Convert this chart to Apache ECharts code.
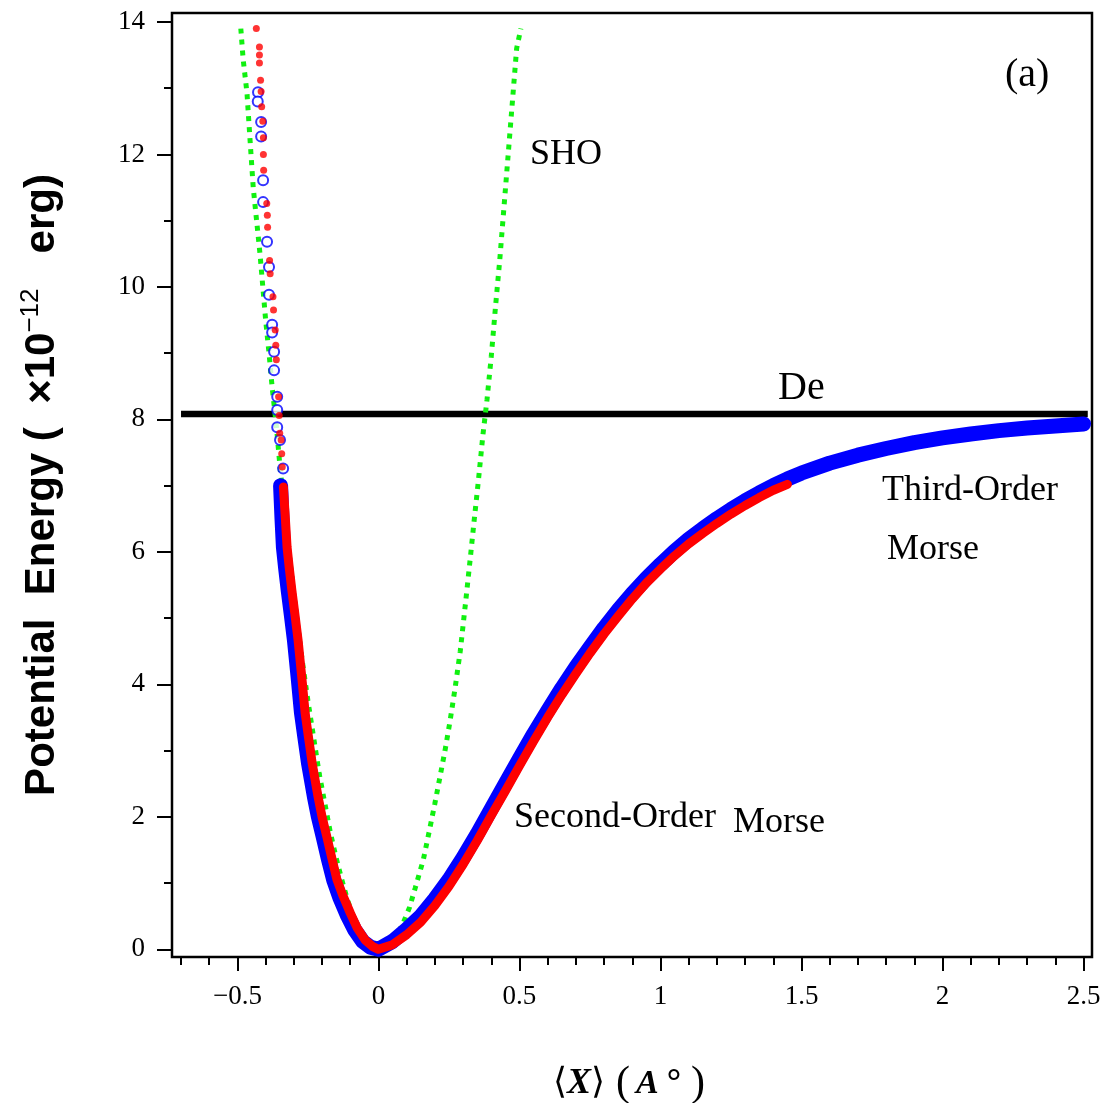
<!DOCTYPE html>
<html>
<head>
<meta charset="utf-8">
<script src="https://cdn.jsdelivr.net/npm/echarts@6/dist/echarts.min.js"></script>
<style>html,body{margin:0;padding:0;background:#fff}#c{width:1105px;height:1103px}</style>
</head>
<body>
<div id="c"></div>
<script>
// ---- Data ----
const xTickLabels = [-0.5, 0, 0.5, 1, 1.5, 2, 2.5];
const yTickLabels = [0, 2, 4, 6, 8, 10, 12, 14];

// De (dissociation energy) horizontal line
const deLevel = 8.08;
const deX = [-0.7, 2.515];

// SHO (green dotted)
const shoPoints = [
 [-0.488,13.9],[-0.48,13.45],[-0.466,12.92],[-0.455,12.2],[-0.444,11.5],[-0.432,11.0],[-0.42,10.5],
 [-0.41,10.0],[-0.40,9.5],[-0.388,9.0],[-0.377,8.49],[-0.362,7.9],[-0.349,7.28],[-0.335,6.7],[-0.32,6.1],
 [-0.305,5.55],[-0.29,5.0],[-0.27,4.35],[-0.25,3.75],[-0.23,3.2],[-0.21,2.65],[-0.19,2.2],[-0.17,1.75],
 [-0.15,1.38],[-0.13,1.05],[-0.11,0.75],[-0.09,0.5],[-0.07,0.3],[-0.05,0.15],[-0.03,0.06],[-0.01,0.01],
 [0.01,0.0],[0.03,0.04],[0.05,0.12],[0.07,0.25],[0.088,0.40],[0.11,0.63],[0.13,0.92],[0.159,1.35],
 [0.18,1.78],[0.2,2.2],[0.218,2.6],[0.236,3.0],[0.254,3.45],[0.272,3.95],[0.29,4.5],[0.308,5.2],
 [0.325,5.88],[0.34,6.5],[0.355,7.1],[0.37,7.75],[0.385,8.3],[0.40,8.95],[0.415,9.7],[0.43,10.4],
 [0.445,11.2],[0.46,12.0],[0.475,12.8],[0.49,13.6],[0.505,13.9]
];

// Third-order Morse (blue open circles): sparse upper-left part and dense main part
const thirdUpper = [
 [-0.427,12.94],[-0.428,12.8],[-0.416,12.49],[-0.416,12.27],[-0.409,11.61],[-0.409,11.28],[-0.395,10.68],
 [-0.388,10.30],[-0.388,9.88],[-0.377,9.43],[-0.377,9.31],[-0.37,9.02],[-0.37,8.74],[-0.359,8.34],
 [-0.359,8.14],[-0.359,7.88],[-0.349,7.69],[-0.338,7.26]
];
const thirdMain = [
 [-0.347,7.0],[-0.342,6.5],[-0.337,6.07],[-0.329,5.75],[-0.32,5.42],[-0.309,5.05],[-0.298,4.67],
 [-0.291,4.37],[-0.284,4.07],[-0.273,3.57],[-0.261,3.2],[-0.248,2.81],[-0.227,2.3],[-0.213,2.0],
 [-0.196,1.7],[-0.178,1.37],[-0.159,1.05],[-0.137,0.78],[-0.111,0.52],[-0.085,0.3],[-0.056,0.12],
 [-0.028,0.03],[0.0,0.0],[0.05,0.12],[0.1,0.3],[0.15,0.5],[0.2,0.76],[0.25,1.05],[0.3,1.38],
 [0.35,1.74],[0.4,2.12],[0.45,2.5],[0.5,2.88],[0.55,3.25],[0.6,3.6],[0.65,3.94],[0.7,4.26],[0.75,4.56],
 [0.8,4.85],[0.85,5.12],[0.9,5.37],[0.95,5.6],[1.0,5.81],[1.05,6.01],[1.1,6.19],[1.15,6.35],[1.2,6.5],
 [1.25,6.64],[1.3,6.77],[1.35,6.89],[1.4,7.0],[1.45,7.1],[1.5,7.19],[1.6,7.34],[1.7,7.46],[1.8,7.56],
 [1.9,7.65],[2.0,7.72],[2.1,7.78],[2.2,7.83],[2.3,7.87],[2.4,7.9],[2.5,7.93]
];

// Second-order Morse (red dots): sparse upper-left part and dense main part
const secondUpper = [
 [-0.433,13.9],[-0.422,13.62],[-0.422,13.5],[-0.422,13.38],[-0.418,13.12],[-0.416,12.95],[-0.414,12.72],
 [-0.41,12.5],[-0.408,12.25],[-0.408,12.0],[-0.407,11.76],[-0.396,11.26],[-0.394,11.08],[-0.393,10.9],
 [-0.386,10.4],[-0.384,10.2],[-0.374,9.85],[-0.372,9.65],[-0.366,9.35],[-0.364,9.12],[-0.362,8.9],
 [-0.354,8.34],[-0.352,8.06],[-0.35,7.79],[-0.345,7.69],[-0.343,7.48],[-0.341,7.28]
];
const secondMain = [
 [-0.337,6.98],[-0.33,6.5],[-0.324,6.07],[-0.316,5.75],[-0.307,5.42],[-0.296,5.05],[-0.285,4.67],
 [-0.278,4.37],[-0.271,4.07],[-0.26,3.57],[-0.248,3.2],[-0.235,2.81],[-0.214,2.3],[-0.2,2.0],
 [-0.183,1.7],[-0.165,1.37],[-0.147,1.05],[-0.125,0.8],[-0.1,0.55],[-0.075,0.32],[-0.047,0.14],
 [-0.02,0.04],[0.0,0.0],[0.05,0.07],[0.1,0.22],[0.15,0.41],[0.2,0.66],[0.25,0.95],[0.3,1.28],
 [0.35,1.64],[0.4,2.02],[0.45,2.39],[0.5,2.77],[0.55,3.14],[0.6,3.5],[0.65,3.84],[0.7,4.16],
 [0.75,4.47],[0.8,4.76],[0.85,5.03],[0.9,5.29],[0.95,5.53],[1.0,5.74],[1.05,5.94],[1.1,6.12],
 [1.15,6.28],[1.2,6.43],[1.25,6.57],[1.3,6.7],[1.35,6.82],[1.4,6.93],[1.45,7.02]
];

// ---- Layout ----
const W = 1105, H = 1103;
const L = 172, R = 1092, T = 13, B = 957;
const X_MIN = -0.732, X_MAX = 2.53, Y_MIN = -0.116, Y_MAX = 14.135;
const px = x => L + (x - X_MIN) / (X_MAX - X_MIN) * (R - L);
const py = y => B - (y - Y_MIN) / (Y_MAX - Y_MIN) * (B - T);

const SERIF = '"Liberation Serif","Times New Roman",serif';
const SANS = '"Liberation Sans",Arial,sans-serif';

const tickX0 = xTickLabels[0] - 0.2; // first minor tick (-0.7)
const tickX1 = xTickLabels[xTickLabels.length - 1];
const tickY0 = yTickLabels[0], tickY1 = yTickLabels[yTickLabels.length - 1];

const minusFmt = v => (v < 0 ? '\u2212' + Math.abs(v) : String(v));
const noLine = {show: false, onZero: false};

const chart = echarts.init(document.getElementById('c'), null, {renderer: 'canvas'});
chart.setOption({
  animation: false,
  backgroundColor: '#fff',
  grid: [
    {left: L, top: T, width: R - L, height: B - T, show: true, borderColor: '#000', borderWidth: 2.5,
     backgroundColor: 'transparent', outerBoundsMode: 'none'},
    // minor ticks
    {left: px(tickX0), top: py(tickY1), width: px(tickX1) - px(tickX0), height: py(tickY0) - py(tickY1), outerBoundsMode: 'none'},
    // major ticks + labels
    {left: px(xTickLabels[0]), top: py(tickY1), width: px(tickX1) - px(xTickLabels[0]), height: py(tickY0) - py(tickY1), outerBoundsMode: 'none'}
  ],
  xAxis: [
    {type: 'value', gridIndex: 0, min: X_MIN, max: X_MAX, axisLine: noLine, axisTick: {show: false},
     axisLabel: {show: false}, splitLine: {show: false},
     name: '{b|\u27E8}{x|X}{b|\u27E9}{s| }{p|(}{a|A}{d|\u00B0}{p|)}', nameLocation: 'middle', nameGap: 106,
     nameTextStyle: {rich: {
       b: {fontFamily: SERIF, fontSize: 36, color: '#000'},
       x: {fontFamily: SERIF, fontSize: 36, fontWeight: 'bold', fontStyle: 'italic', color: '#000'},
       s: {fontFamily: SERIF, fontSize: 20},
       p: {fontFamily: SERIF, fontSize: 42, color: '#000', padding: [0, 6, 0, 6]},
       a: {fontFamily: SERIF, fontSize: 34, fontStyle: 'italic', fontWeight: 'bold', color: '#000'},
       d: {fontFamily: SERIF, fontSize: 36, fontWeight: 'bold', color: '#000', padding: [0, 4, 0, 8]}
     }}},
    {type: 'value', gridIndex: 1, min: tickX0, max: tickX1, interval: 0.1, offset: B - py(tickY0),
     axisLine: noLine, axisTick: {show: true, length: 8, lineStyle: {color: '#000', width: 2}},
     axisLabel: {show: false}, splitLine: {show: false}},
    {type: 'value', gridIndex: 2, min: xTickLabels[0], max: tickX1, interval: 0.5, offset: B - py(tickY0),
     axisLine: noLine, axisTick: {show: true, length: 14, lineStyle: {color: '#000', width: 2}},
     axisLabel: {show: true, margin: 26, formatter: minusFmt, fontFamily: SERIF, fontSize: 27, color: '#000',
       showMinLabel: true, showMaxLabel: true},
     splitLine: {show: false}}
  ],
  yAxis: [
    {type: 'value', gridIndex: 0, min: Y_MIN, max: Y_MAX, axisLine: noLine, axisTick: {show: false},
     axisLabel: {show: false}, splitLine: {show: false},
     name: '{a|Potential  Energy (  \u00D710}{s|\u221212}{a|   erg)}', nameLocation: 'middle', nameGap: 106,
     nameTextStyle: {rich: {
       a: {fontFamily: SANS, fontSize: 42, fontWeight: 'bold', color: '#000'},
       s: {fontFamily: SANS, fontSize: 26, color: '#000', padding: [0, 0, 22, 0]}
     }}},
    {type: 'value', gridIndex: 1, min: tickY0, max: tickY1, interval: 1, offset: px(tickX0) - L,
     axisLine: noLine, axisTick: {show: true, length: 8, lineStyle: {color: '#000', width: 2}},
     axisLabel: {show: false}, splitLine: {show: false}},
    {type: 'value', gridIndex: 2, min: tickY0, max: tickY1, interval: 2, offset: px(xTickLabels[0]) - L,
     axisLine: noLine, axisTick: {show: true, length: 15, lineStyle: {color: '#000', width: 2}},
     axisLabel: {show: true, margin: 27, fontFamily: SERIF, fontSize: 27, color: '#000',
       showMinLabel: true, showMaxLabel: true},
     splitLine: {show: false}}
  ],
  series: [
    {type: 'line', xAxisIndex: 0, yAxisIndex: 0, data: deX.map(x => [x, deLevel]), symbol: 'none',
     lineStyle: {color: '#000', width: 6.5, cap: 'butt'}, z: 2},
    {type: 'line', xAxisIndex: 0, yAxisIndex: 0, data: shoPoints, symbol: 'none',
     lineStyle: {color: '#10f010', width: 5, type: [5, 6], cap: 'butt'}, z: 3},
    {type: 'line', xAxisIndex: 0, yAxisIndex: 0, data: thirdMain, symbol: 'none',
     lineStyle: {color: '#0000ff', width: 15, cap: 'round', join: 'round'}, z: 4},
    {type: 'scatter', xAxisIndex: 0, yAxisIndex: 0, data: thirdUpper, symbol: 'emptyCircle', symbolSize: 10,
     itemStyle: {color: '#0000ff', borderColor: '#0000ff', borderWidth: 2.5}, z: 4},
    {type: 'line', xAxisIndex: 0, yAxisIndex: 0, data: secondMain, symbol: 'none',
     lineStyle: {color: '#ff0000', width: 9, cap: 'round', join: 'round'}, z: 5},
    {type: 'scatter', xAxisIndex: 0, yAxisIndex: 0, data: secondUpper, symbol: 'circle', symbolSize: 7,
     itemStyle: {color: '#ff0000'}, z: 5}
  ],
  graphic: [
    {type: 'text', x: 1005, y: 75, style: {text: '(a)', font: '40px ' + SERIF, fill: '#000', align: 'left', verticalAlign: 'middle'}},
    {type: 'text', x: 530, y: 155, style: {text: 'SHO', font: '36px ' + SERIF, fill: '#000', align: 'left', verticalAlign: 'middle'}},
    {type: 'text', x: 778, y: 388, style: {text: 'De', font: '40px ' + SERIF, fill: '#000', align: 'left', verticalAlign: 'middle'}},
    {type: 'text', x: 882, y: 491, style: {text: 'Third-Order', font: '36px ' + SERIF, fill: '#000', align: 'left', verticalAlign: 'middle'}},
    {type: 'text', x: 887, y: 550, style: {text: 'Morse', font: '36px ' + SERIF, fill: '#000', align: 'left', verticalAlign: 'middle'}},
    {type: 'text', x: 514, y: 818, style: {text: 'Second-Order', font: '36px ' + SERIF, fill: '#000', align: 'left', verticalAlign: 'middle'}},
    {type: 'text', x: 733, y: 823, style: {text: 'Morse', font: '36px ' + SERIF, fill: '#000', align: 'left', verticalAlign: 'middle'}}
  ]
});
</script>
</body>
</html>
